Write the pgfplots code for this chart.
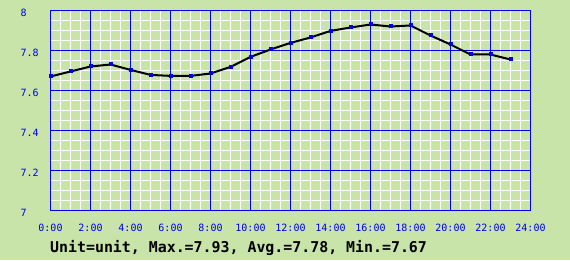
\documentclass[border=0pt]{standalone}
\usepackage{pgfplots}
\pgfplotsset{compat=1.18}
\usepackage{fontspec}
\setmainfont{DejaVu Sans}
\setmonofont{DejaVu Sans Mono}
\definecolor{bgc}{RGB}{200,228,168}
\definecolor{bluec}{RGB}{0,0,235}
\pgfplotsset{base/.style={
  at={(50.5pt,49.5pt)}, anchor=south west,
  scale only axis, width=480pt, height=200pt,
  xmin=0, xmax=24, ymin=7, ymax=8,
  xtick={0,2,...,24},
  ytick={7,7.2,7.4,7.6,7.8,8},
  major tick length=0pt, minor tick length=0pt,
}}
\begin{document}
\begin{tikzpicture}
\fill[bgc] (0,0) rectangle (570pt,260pt);
\begin{axis}[base,
  minor x tick num=3, minor y tick num=3,
  grid=minor,
  minor grid style={white, line width=1pt, solid},
  axis line style={draw=none},
  xticklabels={}, yticklabels={},
]
\end{axis}
\begin{axis}[base,
  xticklabels={0:00,2:00,4:00,6:00,8:00,10:00,12:00,14:00,16:00,18:00,20:00,22:00,24:00},
  yticklabels={7,7.2,7.4,7.6,7.8,8},
  grid=major,
  major grid style={bluec, line width=1pt, solid},
  axis line style={bluec, line width=1pt},
  /pgf/number format/assume math mode=true,
  ticklabel style={font=\ttfamily\fontsize{10}{12}\selectfont, text=bluec, inner sep=0pt},
  xticklabel style={anchor=north, yshift=-13pt},
  yticklabel style={anchor=west, xshift=-30pt, yshift=-2pt},
]
\addplot[black, line width=2pt, mark=square*, mark size=1.5pt,
  mark options={fill=bluec, draw=bluec, line width=0pt}] coordinates {
(0,7.670) (1,7.695) (2,7.720) (3,7.730) (4,7.703) (5,7.678) (6,7.673) (7,7.673)
(8,7.685) (9,7.718) (10,7.768) (11,7.805) (12,7.838) (13,7.865) (14,7.898)
(15,7.915) (16,7.930) (17,7.920) (18,7.925) (19,7.875) (20,7.830) (21,7.780)
(22,7.780) (23,7.755)
};
\end{axis}
\node[anchor=base west, inner sep=0pt, font=\ttfamily\bfseries\fontsize{14.9}{16}\selectfont] at (50pt,7.5pt)
  {Unit=unit, Max.=7.93, Avg.=7.78, Min.=7.67};
\end{tikzpicture}
\end{document}
